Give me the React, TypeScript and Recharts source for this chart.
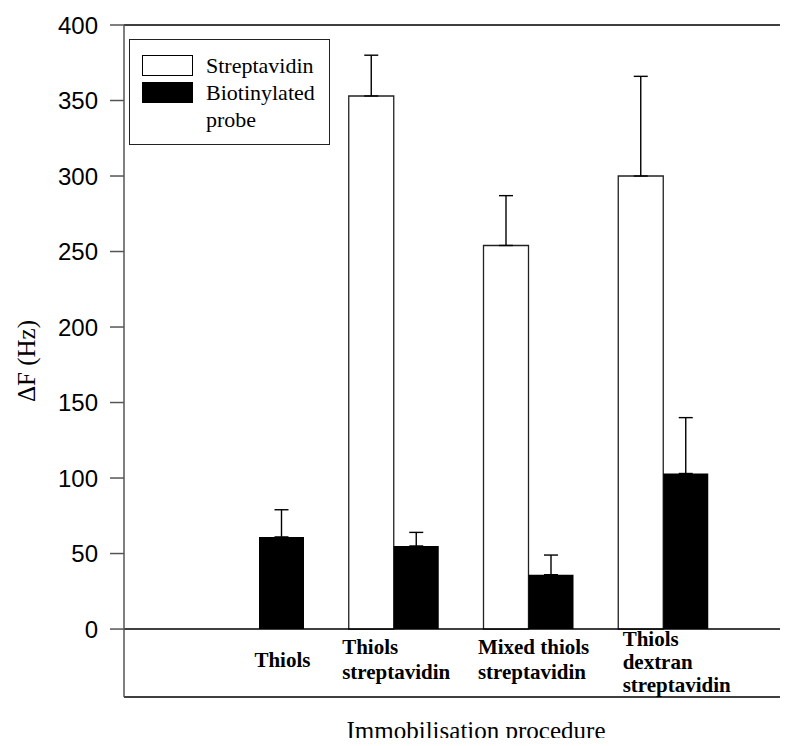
import React from 'react';
import { BarChart, Bar, XAxis, YAxis, ErrorBar, ReferenceLine, Legend } from 'recharts';

const categories = ['Thiols', 'Thiols streptavidin', 'Mixed thiols streptavidin', 'Thiols dextran streptavidin'];
const categoryLines = [['Thiols'], ['Thiols', 'streptavidin'], ['Mixed thiols', 'streptavidin'], ['Thiols', 'dextran', 'streptavidin']];
const seriesNames = ['Streptavidin', 'Biotinylated probe'];
const streptavidin = [0, 353, 254, 300];
const streptavidinErr = [null, 27, 33, 66];
const probe = [61, 55, 36, 103];
const probeErr = [18, 9, 13, 37];
const yTicks = [0, 50, 100, 150, 200, 250, 300, 350, 400];

const SERIF = '"Liberation Serif", "Times New Roman", serif';
const SANS = '"Liberation Sans", Arial, sans-serif';

const TICK_LAYOUT = [
  { dx: -5, dy: -30, lh: 25 },
  { dx: -52, dy: -43, lh: 25.3 },
  { dx: -51, dy: -43, lh: 25.3 },
  { dx: -41, dy: -51, lh: 23 },
];

const data = categories.map((c, i) => ({
  name: c,
  strep: streptavidin[i],
  strepErr: streptavidinErr[i] == null ? null : [0, streptavidinErr[i] as number],
  probe: probe[i],
  probeErr: [0, probeErr[i]],
}));

const CategoryTick = (props: any) => {
  const { x, y, payload } = props;
  const idx = categories.indexOf(payload.value);
  if (idx < 0) return null;
  const lay = TICK_LAYOUT[idx];
  const lines = categoryLines[idx];
  return (
    <text fontFamily={SERIF} fontWeight="bold" fontSize={21} fill="#000" textAnchor="start">
      {lines.map((l, i) => (
        <tspan key={i} x={x + lay.dx} y={y + lay.dy + i * lay.lh}>
          {l}
        </tspan>
      ))}
    </text>
  );
};

const renderLegend = (props: any) => {
  const payload = [...(props.payload || [])].sort(
    (a: any, b: any) => seriesNames.indexOf(a.value) - seriesNames.indexOf(b.value)
  );
  return (
    <div
      style={{
        width: 201,
        height: 106,
        border: '1px solid #222',
        boxSizing: 'border-box',
        background: '#fff',
        fontFamily: SERIF,
        fontSize: 22,
        lineHeight: '27px',
        paddingTop: 12,
        paddingLeft: 12,
        color: '#000',
        textAlign: 'left',
      }}
    >
      {payload.map((e: any, i: number) => (
        <div key={i} style={{ display: 'flex', alignItems: 'flex-start' }}>
          <div
            style={{
              width: 51,
              height: 21,
              marginTop: 3,
              boxSizing: 'border-box',
              border: '1px solid #000',
              background: e.color,
              flexShrink: 0,
            }}
          />
          <div style={{ marginLeft: 13, width: 120 }}>{e.value}</div>
        </div>
      ))}
    </div>
  );
};

const YLabel = (p: any) => {
  const vb = p.viewBox || { x: 0, y: 17, width: 116, height: 672 };
  const cy = vb.y + vb.height / 2;
  const x = 27;
  return (
    <text
      x={x}
      y={cy}
      transform={`rotate(-90 ${x} ${cy})`}
      textAnchor="middle"
      fontFamily={SERIF}
      fontSize={25}
      fill="#000"
    >
      ΔF (Hz)
    </text>
  );
};

export default function App() {
  return (
    <div style={{ width: 780, height: 738, overflow: 'hidden', position: 'relative', marginBottom: -8 }}>
      <BarChart
        width={820}
        height={738}
        data={data}
        margin={{ top: 17, right: 0, left: 0, bottom: 0 }}
        barSize={45}
        barGap={0}
      >
        <XAxis
          dataKey="name"
          height={49}
          padding={{ left: 68, right: 97 }}
          tickLine={false}
          axisLine={{ stroke: '#000', strokeWidth: 1.5 }}
          tick={<CategoryTick />}
          tickSize={0}
          tickMargin={0}
          interval={0}
          label={{
            value: 'Immobilisation procedure',
            position: 'insideBottom',
            offset: 7,
            fill: '#000',
            fontSize: 25,
            fontFamily: SERIF,
          }}
        />
        <YAxis
          type="number"
          width={116}
          domain={[-45, 400]}
          ticks={yTicks}
          interval={0}
          tickSize={14}
          tickMargin={12}
          axisLine={{ stroke: '#555', strokeWidth: 1.5 }}
          tickLine={{ stroke: '#555', strokeWidth: 1.5 }}
          tick={{ fill: '#000', fontSize: 24, fontFamily: SANS }}
          label={{ content: (p: any) => <YLabel {...p} /> }}
        />
        <ReferenceLine y={0} stroke="#000" strokeWidth={1.5} />
        <ReferenceLine y={400} stroke="#000" strokeWidth={1.5} />
        <Legend
          layout="vertical"
          align="center"
          verticalAlign="middle"
          content={renderLegend}
          itemSorter={(item: any) => seriesNames.indexOf(item.value)}
          wrapperStyle={{ left: 121, top: 31, width: 201, height: 106 }}
        />
        <Bar dataKey="strep" name={seriesNames[0]} fill="#fff" stroke="#222" strokeWidth={1.3} isAnimationActive={false}>
          <ErrorBar dataKey="strepErr" width={7} stroke="#000" strokeWidth={1.4} direction="y" />
        </Bar>
        <Bar dataKey="probe" name={seriesNames[1]} fill="#000" isAnimationActive={false}>
          <ErrorBar dataKey="probeErr" width={7} stroke="#000" strokeWidth={1.4} direction="y" />
        </Bar>
      </BarChart>
    </div>
  );
}
